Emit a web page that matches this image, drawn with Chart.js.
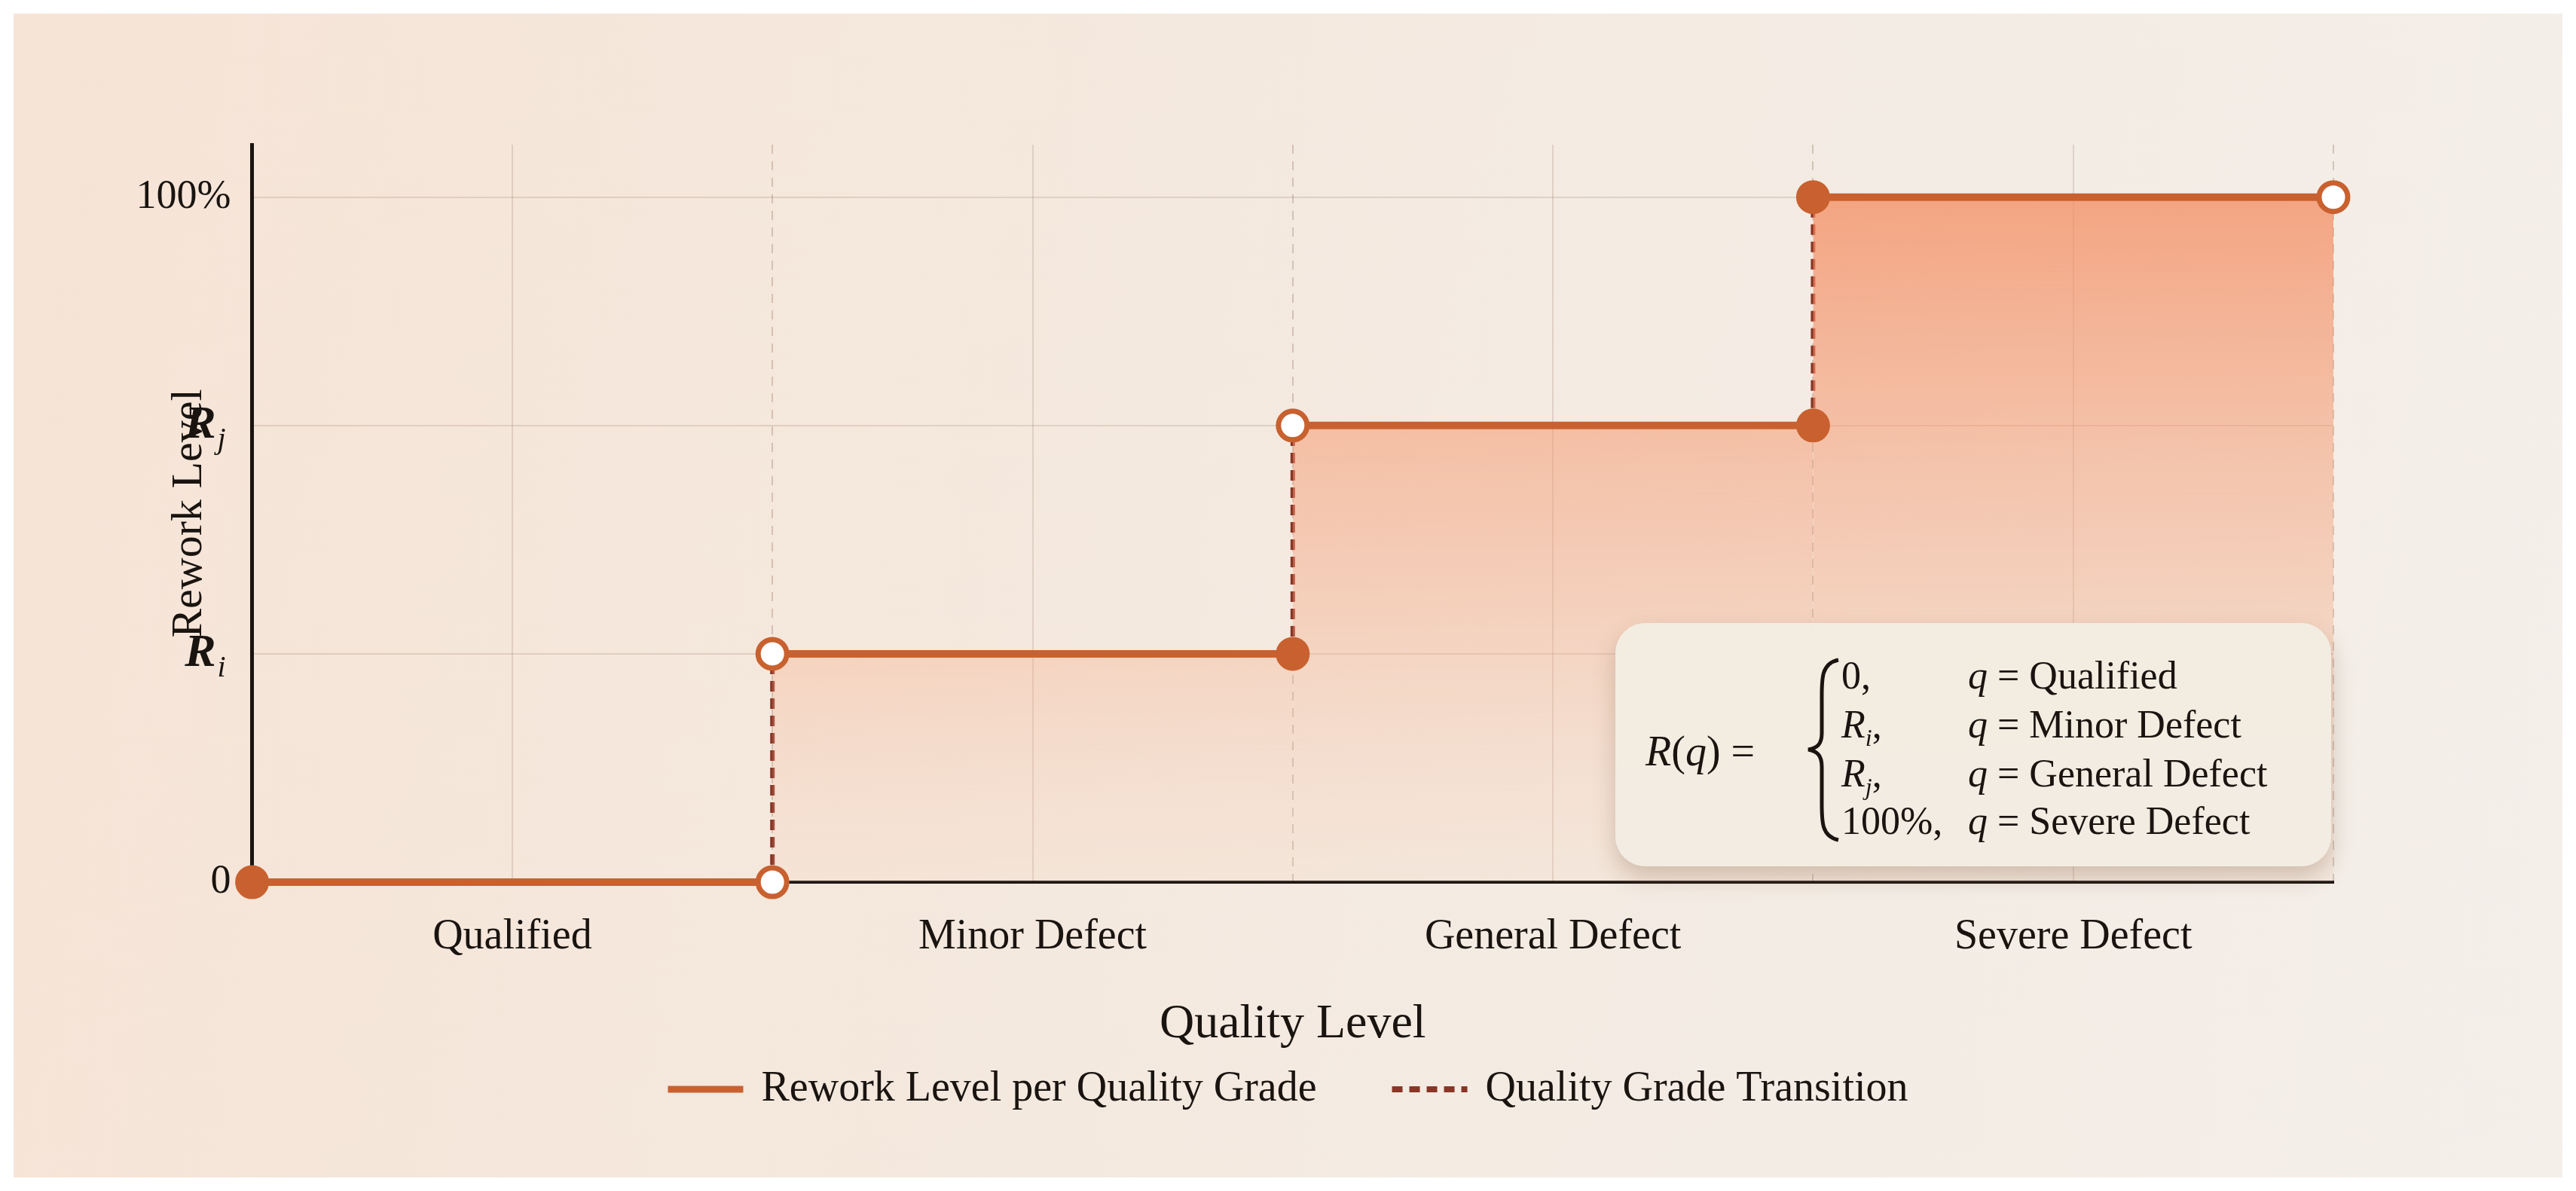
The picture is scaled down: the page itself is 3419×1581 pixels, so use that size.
<!DOCTYPE html>
<html><head><meta charset="utf-8">
<script src="https://cdn.jsdelivr.net/npm/chart.js@4"></script>
<style>
html,body{margin:0;padding:0;width:3419px;height:1581px;overflow:hidden;background:#fff;}
#wrap{position:absolute;left:18px;top:18px;width:3383px;height:1545px;
background:linear-gradient(100deg,#f6e4d6 0%,#f4e9df 45%,#f3ede6 80%,#f4efe9 100%);}
canvas{position:absolute;left:0;top:0;}
#formula{position:absolute;left:2126px;top:809px;width:950px;height:323px;border-radius:40px;
background:rgba(243,236,226,0.96);box-shadow:0 14px 30px rgba(120,80,50,0.28);
font-family:"Liberation Serif",serif;color:#1a1410;}
#formula .lhs{position:absolute;left:40px;top:138px;font-size:56px;line-height:64px;font-style:italic;}
#formula .lhs span{font-style:normal;}
#formula svg{position:absolute;left:252px;top:46px;}
#formula .row{position:absolute;left:300px;font-size:52px;line-height:60px;white-space:nowrap;}
#formula .c1{display:inline-block;width:168px;}
#formula i{font-style:italic;}
</style></head><body>
<div id="wrap"><canvas id="c" width="3383" height="1545"></canvas>
<div id="formula">
 <div class="lhs">R<span>(</span>q<span>) =</span></div>
 <svg width="50" height="245" viewBox="0 0 50 245"><path d="M44 3 C20 8 22 30 22 60 L22 100 C22 115 16 120 4 122 C16 124 22 130 22 145 L22 185 C22 215 20 237 44 242" fill="none" stroke="#1a1410" stroke-width="5"/></svg>
 <div class="row" style="top:40px"><span class="c1">0,</span><i>q</i> = Qualified</div>
 <div class="row" style="top:105px"><span class="c1"><i>R<sub style="font-size:32px">i</sub></i>,</span><i>q</i> = Minor Defect</div>
 <div class="row" style="top:170px"><span class="c1"><i>R<sub style="font-size:32px">j</sub></i>,</span><i>q</i> = General Defect</div>
 <div class="row" style="top:233px"><span class="c1">100%,</span><i>q</i> = Severe Defect</div>
</div>
</div>
<script>
const categories = ["Qualified","Minor Defect","General Defect","Severe Defect"];
const levels = [0,1,2,3];            // rework level index per grade
const yTickLabels = ["0","R|i","R|j","100%"];
const startFilled = [true,false,false,true];
const endFilled = [false,true,true,false];
const legendLabels = ["Rework Level per Quality Grade","Quality Grade Transition"];

const LINE = '#c8612f', DASH = '#8a3526';
const serif = '"Liberation Serif", serif';

function fillGrad(ctx){
  const ca = ctx.chart.chartArea; if(!ca) return 'rgba(240,150,110,0.4)';
  const g = ctx.chart.ctx.createLinearGradient(0,ca.top,0,ca.bottom);
  g.addColorStop(0,'rgba(243,135,90,0.78)');
  g.addColorStop(0.6,'rgba(245,160,120,0.38)');
  g.addColorStop(1,'rgba(248,200,170,0.12)');
  return g;
}

const datasets = [];
categories.forEach((c,i)=>{
  datasets.push({
    label: c, data:[{x:i,y:levels[i]},{x:i+1,y:levels[i]}],
    borderColor: LINE, borderWidth: 10, fill: levels[i]>0?'origin':false,
    backgroundColor: fillGrad, pointRadius: 19, pointBorderWidth: 7,
    pointBorderColor: LINE, clip: false,
    pointBackgroundColor: [startFilled[i]?LINE:'#ffffff', endFilled[i]?LINE:'#ffffff'],
    order: 2
  });
});
const trans = [];
for(let i=1;i<categories.length;i++){
  trans.push({x:i,y:levels[i-1]},{x:i,y:levels[i]});
  if(i<categories.length-1) trans.push({x:i,y:null});
}
datasets.push({label:'transition',data:trans,borderColor:DASH,borderWidth:6,borderDash:[14,9],
  pointRadius:0,fill:false,spanGaps:false,order:3});

const deco = {
  id:'deco',
  afterDraw(chart){
    const ctx = chart.ctx, ys = chart.scales.y, ca = chart.chartArea;
    ctx.save(); ctx.fillStyle='#1a1410'; ctx.textBaseline='middle'; ctx.textAlign='right';
    yTickLabels.forEach((t,i)=>{
      const y = ys.getPixelForValue(i); const xr = ca.left-28;
      if(t.includes('|')){
        const [a,s]=t.split('|');
        ctx.font='bold italic 62px '+serif;
        ctx.textAlign='left';
        const sw = 20, aw = ctx.measureText(a).width;
        const x0 = xr - aw - sw;
        ctx.fillText(a,x0,y);
        ctx.font='italic 40px '+serif; ctx.fillText(s,x0+aw+2,y+20);
        ctx.textAlign='right';
      } else {
        ctx.font='54px '+serif; ctx.fillText(t,xr,y);
      }
    });
    const ly = 1428, cx = chart.width/2;
    ctx.font='56px '+serif; ctx.textAlign='left';
    const w1 = ctx.measureText(legendLabels[0]).width, w2 = ctx.measureText(legendLabels[1]).width;
    const total = 100+24+w1+100+100+24+w2; let x = cx-total/2;
    ctx.strokeStyle=LINE; ctx.lineWidth=9; ctx.beginPath(); ctx.moveTo(x,ly); ctx.lineTo(x+100,ly); ctx.stroke();
    x+=124; ctx.fillText(legendLabels[0],x,ly); x+=w1+100;
    ctx.strokeStyle=DASH; ctx.lineWidth=8; ctx.setLineDash([14,9]); ctx.beginPath(); ctx.moveTo(x,ly); ctx.lineTo(x+100,ly); ctx.stroke();
    ctx.setLineDash([]); x+=124; ctx.fillText(legendLabels[1],x,ly);
    ctx.restore();
  }
};

new Chart(document.getElementById('c'),{
  type:'line',
  data:{datasets},
  options:{
    responsive:false, animation:false, devicePixelRatio:1,
    layout:{padding:{left:195,right:304,top:174,bottom:160}},
    plugins:{legend:{display:false},tooltip:{enabled:false}},
    scales:{
      x:{type:'linear',min:0,max:4,
        afterBuildTicks(s){s.ticks=categories.map((c,i)=>({value:i+0.5}));},
        ticks:{callback:(v)=>categories[Math.floor(v)],font:{family:serif,size:56},color:'#1a1410',padding:40,maxRotation:0},
        grid:{color:'rgba(150,120,100,0.22)',lineWidth:2,drawTicks:false},
        border:{display:true,color:'#1a1410',width:4},
        title:{display:true,text:'Quality Level',font:{family:serif,size:64},color:'#1a1410',padding:{top:4}}
      },
      x2:{type:'linear',min:0,max:4,position:'bottom',display:true,
        afterBuildTicks(s){s.ticks=[1,2,3,4].map(v=>({value:v}));},
        ticks:{display:false},
        grid:{color:'rgba(150,120,100,0.35)',lineWidth:2,drawTicks:false},
        border:{display:false,dash:[12,10]}
      },
      y:{min:0,max:3.23,
        afterBuildTicks(s){s.ticks=levels.map(v=>({value:v}));},
        ticks:{callback:(v)=>'', padding:4},
        grid:{color:'rgba(150,120,100,0.22)',lineWidth:2,drawTicks:false},
        border:{color:'#1a1410',width:5},
        title:{display:true,text:'Rework Level',font:{family:serif,size:58},color:'#1a1410',padding:{bottom:40}}
      }
    }
  },
  plugins:[deco]
});
</script></body></html>
